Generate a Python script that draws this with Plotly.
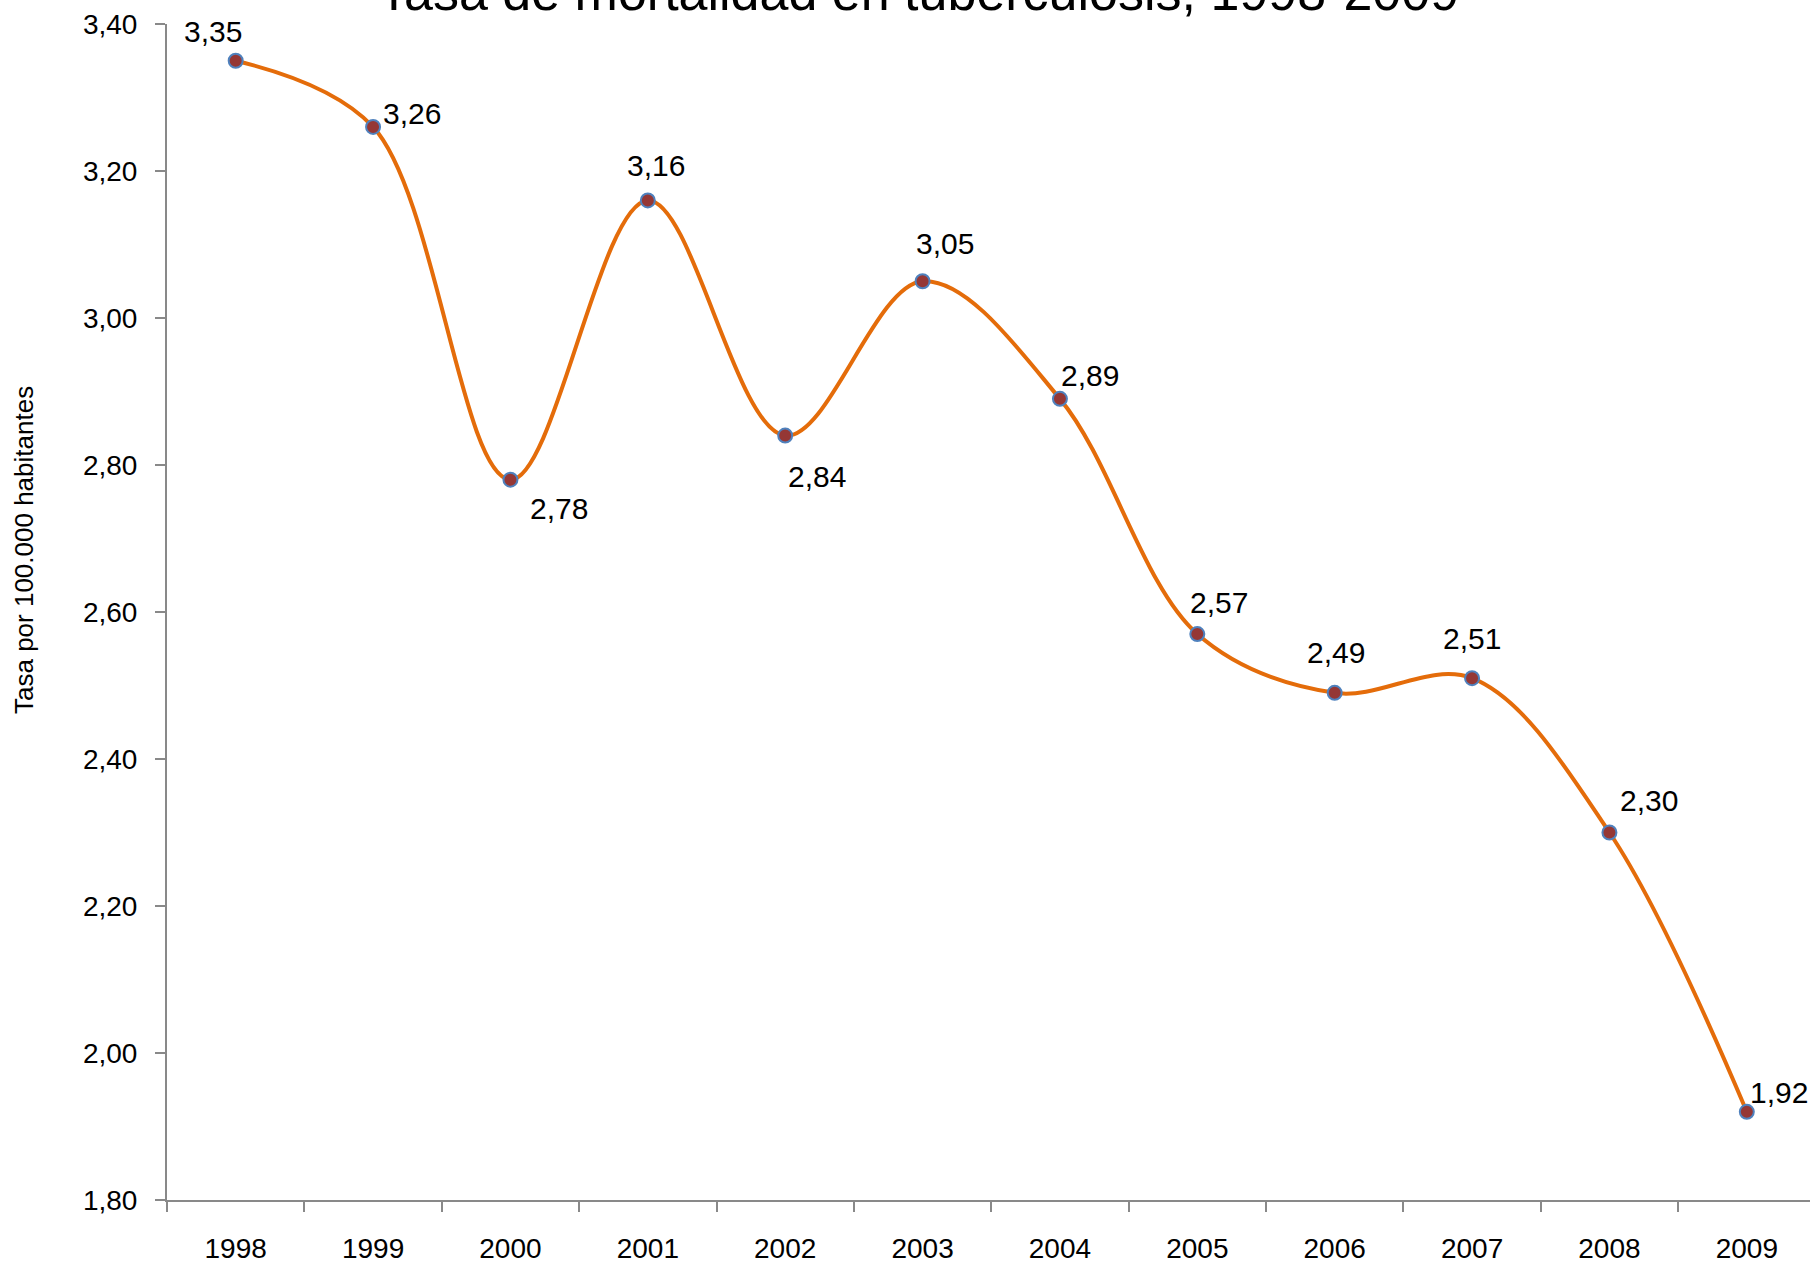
import plotly.graph_objects as go

years = ["1998", "1999", "2000", "2001", "2002", "2003", "2004", "2005", "2006", "2007", "2008", "2009"]
rates = [3.35, 3.26, 2.78, 3.16, 2.84, 3.05, 2.89, 2.57, 2.49, 2.51, 2.30, 1.92]
y_ticks = [1.80, 2.00, 2.20, 2.40, 2.60, 2.80, 3.00, 3.20, 3.40]

# label offsets in pixels (style only)
label_dx = [-23, 39, 49, 8, 32, 22, 30, 22, 1, 0, 40, 32]
label_dy = [29, 13, -29, 35, -41, 38, 23, 32, 40, 40, 32, 19]

FONT = "Liberation Sans, Arial, sans-serif"
W, H = 1810, 1263
L, R, T, B = 167, 0, 24, 63

fig = go.Figure()
fig.add_trace(go.Scatter(
    x=years, y=rates, mode="lines+markers",
    line=dict(color="#E46C0A", width=4, shape="spline", smoothing=1.0),
    marker=dict(symbol="circle", size=14, color="#953735",
                line=dict(color="#4F81BD", width=2)),
    showlegend=False, hoverinfo="x+y",
))

def fmt(v):
    return f"{v:.2f}".replace(".", ",")

for i, (v, dx, dy) in enumerate(zip(rates, label_dx, label_dy)):
    fig.add_annotation(x=i, y=v, xref="x", yref="y", text=fmt(v), showarrow=False,
                       xshift=dx, yshift=dy,
                       font=dict(family=FONT, size=30, color="#000000"))

pw = W - L - R
ph = H - T - B
fig.add_annotation(xref="paper", yref="paper",
                   x=(918 - L) / pw, y=1.0, yshift=1, xanchor="center", yanchor="bottom",
                   text="Tasa de mortalidad en tuberculosis, 1998-2009",
                   showarrow=False,
                   font=dict(family=FONT, size=52, color="#000000"))
fig.add_annotation(xref="paper", yref="paper",
                   x=(24 - L) / pw, y=(H - B - 550) / ph, xanchor="center", yanchor="middle",
                   text="Tasa por 100.000 habitantes", textangle=-90, showarrow=False,
                   font=dict(family=FONT, size=26, color="#000000"))

axis_color = "#898989"
fig.update_layout(
    width=W, height=H,
    margin=dict(l=L, r=R, t=T, b=B, pad=0, autoexpand=False),
    paper_bgcolor="white", plot_bgcolor="white",
    separators=", ",
    xaxis=dict(
        type="category", categoryorder="array", categoryarray=years,
        range=[-0.5, 11.46], automargin=False,
        showgrid=False, zeroline=False,
        showline=True, linecolor=axis_color, linewidth=2,
        ticks="outside", ticklen=10, tickwidth=2, tickcolor=axis_color,
        tickson="boundaries",
        tickfont=dict(family=FONT, size=28, color="#000000"),
        ticklabelstandoff=22,
    ),
    yaxis=dict(
        range=[1.80, 3.40], tickvals=y_ticks, tickformat=".2f", automargin=False,
        showgrid=False, zeroline=False,
        showline=True, linecolor=axis_color, linewidth=2,
        ticks="outside", ticklen=10, tickwidth=2, tickcolor=axis_color,
        tickfont=dict(family=FONT, size=28, color="#000000"),
        ticklabelstandoff=12,
    ),
)

fig.write_html("out.html", config={"displayModeBar": False},
               post_script="document.body.style.margin='0px';document.body.style.overflow='hidden';")
